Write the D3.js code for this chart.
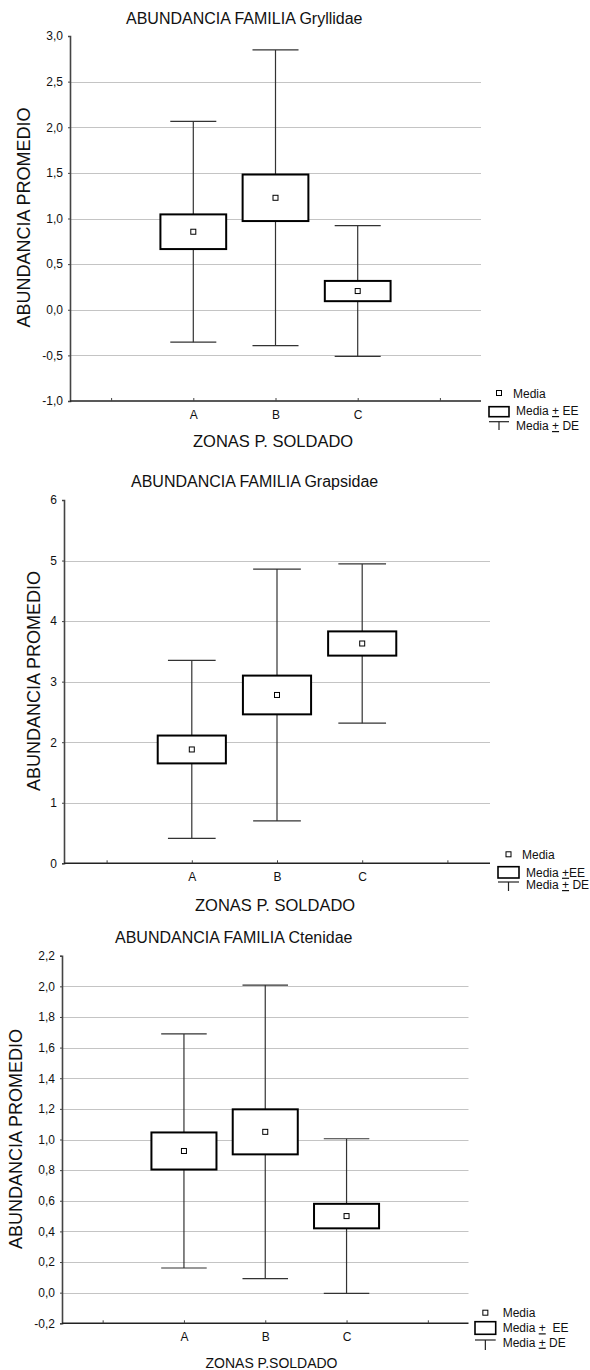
<!DOCTYPE html>
<html>
<head>
<meta charset="utf-8">
<script src="https://cdn.jsdelivr.net/npm/d3@7"></script>
<style>
  body { margin: 0; background: #fff; }
  svg { display: block; font-family: "Liberation Sans", Arial, sans-serif; }
</style>
</head>
<body>
<div id="container"></div>
<script>
/* DATA */
const zones = ['A', 'B', 'C']

const gryllidaeMean = [0.855, 1.227, 0.205]
const gryllidaeEE = [0.19, 0.255, 0.111]
const gryllidaeDE = [1.21, 1.62, 0.717]
const gryllidaeTicks = [-1, -0.5, 0, 0.5, 1, 1.5, 2, 2.5, 3]

const grapsidaeMean = [1.88, 2.78, 3.63]
const grapsidaeEE = [0.23, 0.32, 0.2]
const grapsidaeDE = [1.47, 2.08, 1.315]
const grapsidaeTicks = [0, 1, 2, 3, 4, 5, 6]

const ctenidaeMean = [0.925, 1.05, 0.5]
const ctenidaeEE = [0.121, 0.147, 0.08]
const ctenidaeDE = [0.764, 0.958, 0.505]
const ctenidaeTicks = [-0.2, 0, 0.2, 0.4, 0.6, 0.8, 1, 1.2, 1.4, 1.6, 1.8, 2, 2.2]

/* PANEL LAYOUT */
const panels = [
  {
    title: 'ABUNDANCIA FAMILIA Gryllidae', xTitle: 'ZONAS P. SOLDADO', xTitleSize: 16.5,
    mean: gryllidaeMean, ee: gryllidaeEE, de: gryllidaeDE, ticks: gryllidaeTicks, decimals: 1,
    x0: 70, x1: 481, yTop: 36, yBottom: 401,
    titlePos: [126, 24], xTitlePos: [193, 447], yTitlePos: [30, 217.5],
    legend: { x: 489, y: 393, ee: 'Media ', ee2: ' EE', de: 'Media ', de2: ' DE', lines: [398, 415, 430], box: [406.7, 416.7], cap: [421.7, 430], tx: 516, mx: 513 }
  },
  {
    title: 'ABUNDANCIA FAMILIA Grapsidae', xTitle: 'ZONAS P. SOLDADO', xTitleSize: 16.5,
    mean: grapsidaeMean, ee: grapsidaeEE, de: grapsidaeDE, ticks: grapsidaeTicks, decimals: 0,
    x0: 64, x1: 490, yTop: 500, yBottom: 863.3,
    titlePos: [131, 487], xTitlePos: [195, 911], yTitlePos: [39.5, 681],
    legend: { x: 498, y: 854.3, ee: 'Media ', ee2: 'EE', de: 'Media ', de2: ' DE', lines: [858.5, 876.7, 889], box: [866.7, 878], cap: [882, 891], tx: 526, mx: 522 }
  },
  {
    title: 'ABUNDANCIA FAMILIA Ctenidae', xTitle: 'ZONAS P.SOLDADO', xTitleSize: 14,
    mean: ctenidaeMean, ee: ctenidaeEE, de: ctenidaeDE, ticks: ctenidaeTicks, decimals: 1,
    x0: 62, x1: 468.5, yTop: 955.7, yBottom: 1323.3,
    titlePos: [115, 943], xTitlePos: [205.5, 1368], yTitlePos: [22, 1139],
    legend: { x: 475, y: 1312.7, ee: 'Media ', ee2: '  EE', de: 'Media ', de2: ' DE', lines: [1316.7, 1332.3, 1346.7], box: [1321.7, 1334.3], cap: [1340, 1350], tx: 502.7, mx: 502.7 }
  }
]

const svg = d3.select('#container')
  .append('svg')
  .attr('width', 590)
  .attr('height', 1370)

panels.forEach(p => drawPanel(p))

function drawPanel(p) {
  const g = svg.append('g')

  const xScale = d3.scalePoint()
    .domain(['pre', ...zones, 'post'])
    .range([p.x0, p.x1])
    .padding(0.5)
  const band = xScale.step()

  const yScale = d3.scaleLinear()
    .domain([p.ticks[0], p.ticks[p.ticks.length - 1]])
    .range([p.yBottom, p.yTop])

  // gridlines (not at top or bottom)
  g.append('g')
    .selectAll('line')
    .data(p.ticks.slice(1, -1))
    .join('line')
    .attr('x1', p.x0)
    .attr('x2', p.x1)
    .attr('y1', d => Math.round(yScale(d)) + 0.5)
    .attr('y2', d => Math.round(yScale(d)) + 0.5)
    .attr('stroke', '#c4c4c4')
    .attr('stroke-width', 1)

  // y axis
  const fmt = d => d3.format('.' + p.decimals + 'f')(d).replace('.', ',').replace('\u2212', '-')
  const yAxis = g.append('g')
    .attr('transform', `translate(${p.x0}, 0)`)
    .call(d3.axisLeft(yScale).tickValues(p.ticks).tickFormat(fmt).tickSize(2).tickPadding(5))
  yAxis.select('.domain').attr('stroke', '#444').attr('stroke-width', 1.6)
  yAxis.selectAll('.tick line').attr('stroke', '#444')
  yAxis.selectAll('text')
    .attr('font-size', 12)
    .attr('font-family', '"Liberation Sans", Arial, sans-serif')
    .attr('fill', '#111')

  // x axis
  const xAxis = g.append('g')
    .attr('transform', `translate(0, ${p.yBottom})`)
    .call(d3.axisBottom(xScale)
      .tickFormat(d => zones.includes(d) ? d : '')
      .tickSize(-3)
      .tickPadding(9))
  xAxis.select('.domain').attr('stroke', '#222').attr('stroke-width', 1.6)
    .attr('d', `M${p.x0},0H${p.x1}`)
  xAxis.selectAll('.tick line').attr('stroke', '#444')
  xAxis.selectAll('text')
    .attr('font-size', 12)
    .attr('font-family', '"Liberation Sans", Arial, sans-serif')
    .attr('fill', '#111')

  const rows = zones.map((z, i) => ({ zone: z, mean: p.mean[i], ee: p.ee[i], de: p.de[i] }))

  const boxW = band * 0.8
  const capW = band * 0.56

  // whiskers (Media +- DE)
  const wh = g.append('g').selectAll('g').data(rows).join('g')
  wh.append('line')
    .attr('x1', d => xScale(d.zone))
    .attr('x2', d => xScale(d.zone))
    .attr('y1', d => yScale(d.mean + d.de))
    .attr('y2', d => yScale(d.mean - d.de))
    .attr('stroke', '#333')
    .attr('stroke-width', 1.2)
  wh.append('line')
    .attr('x1', d => xScale(d.zone) - capW / 2)
    .attr('x2', d => xScale(d.zone) + capW / 2)
    .attr('y1', d => yScale(d.mean + d.de))
    .attr('y2', d => yScale(d.mean + d.de))
    .attr('stroke', '#333')
    .attr('stroke-width', 1.2)
  wh.append('line')
    .attr('x1', d => xScale(d.zone) - capW / 2)
    .attr('x2', d => xScale(d.zone) + capW / 2)
    .attr('y1', d => yScale(d.mean - d.de))
    .attr('y2', d => yScale(d.mean - d.de))
    .attr('stroke', '#333')
    .attr('stroke-width', 1.2)

  // boxes (Media +- EE)
  g.append('g').selectAll('rect').data(rows).join('rect')
    .attr('x', d => xScale(d.zone) - boxW / 2)
    .attr('width', boxW)
    .attr('y', d => yScale(d.mean + d.ee))
    .attr('height', d => yScale(d.mean - d.ee) - yScale(d.mean + d.ee))
    .attr('fill', '#fff')
    .attr('stroke', '#000')
    .attr('stroke-width', 2)

  // mean markers
  g.append('g').selectAll('rect').data(rows).join('rect')
    .attr('x', d => xScale(d.zone) - 2.5)
    .attr('y', d => yScale(d.mean) - 2.5)
    .attr('width', 5)
    .attr('height', 5)
    .attr('fill', '#fff')
    .attr('stroke', '#000')
    .attr('stroke-width', 1)

  // titles
  g.append('text')
    .attr('x', p.titlePos[0]).attr('y', p.titlePos[1])
    .attr('font-size', 16)
    .attr('fill', '#111')
    .text(p.title)

  g.append('text')
    .attr('x', p.xTitlePos[0]).attr('y', p.xTitlePos[1])
    .attr('font-size', p.xTitleSize)
    .attr('fill', '#111')
    .text(p.xTitle)

  g.append('text')
    .attr('transform', `translate(${p.yTitlePos[0]}, ${p.yTitlePos[1]}) rotate(-90)`)
    .attr('text-anchor', 'middle')
    .attr('font-size', 18)
    .attr('fill', '#111')
    .text('ABUNDANCIA PROMEDIO')

  // legend
  const L = p.legend
  const lg = g.append('g')
  const symW = L.tx - 7 - L.x
  lg.append('rect')
    .attr('x', L.x + symW / 2 - 2.5).attr('y', L.y - 2.5)
    .attr('width', 5).attr('height', 5)
    .attr('fill', '#fff').attr('stroke', '#000').attr('stroke-width', 1)
  lg.append('text')
    .attr('x', L.mx).attr('y', L.lines[0])
    .attr('font-size', 12).attr('fill', '#111')
    .text('Media')

  lg.append('rect')
    .attr('x', L.x).attr('y', L.box[0])
    .attr('width', symW).attr('height', L.box[1] - L.box[0])
    .attr('fill', '#fff').attr('stroke', '#000').attr('stroke-width', 1.6)
  const t1 = lg.append('text')
    .attr('x', L.tx).attr('y', L.lines[1])
    .attr('font-size', 12).attr('fill', '#111')
  t1.append('tspan').text(L.ee)
  t1.append('tspan').style('text-decoration', 'underline').text('+')
  t1.append('tspan').attr('xml:space', 'preserve').text(L.ee2)

  lg.append('line')
    .attr('x1', L.x).attr('x2', L.x + symW)
    .attr('y1', L.cap[0]).attr('y2', L.cap[0])
    .attr('stroke', '#222').attr('stroke-width', 1.2)
  lg.append('line')
    .attr('x1', L.x + symW / 2).attr('x2', L.x + symW / 2)
    .attr('y1', L.cap[0]).attr('y2', L.cap[1])
    .attr('stroke', '#222').attr('stroke-width', 1.2)
  const t2 = lg.append('text')
    .attr('x', L.tx).attr('y', L.lines[2])
    .attr('font-size', 12).attr('fill', '#111')
  t2.append('tspan').text(L.de)
  t2.append('tspan').style('text-decoration', 'underline').text('+')
  t2.append('tspan').text(L.de2)
}
</script>
</body>
</html>
